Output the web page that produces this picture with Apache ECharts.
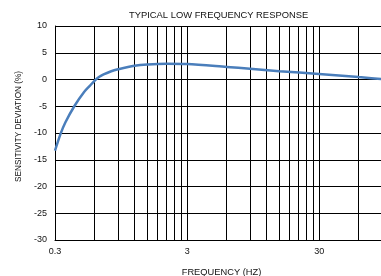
<!DOCTYPE html>
<html>
<head>
<meta charset="utf-8">
<script src="https://cdn.jsdelivr.net/npm/echarts@6/dist/echarts.min.js"></script>
<style>
html,body{margin:0;padding:0;background:#fff;}
#main{width:381px;height:276px;}
</style>
</head>
<body>
<div id="main"></div>
<script>
// frequency (Hz) and sensitivity deviation (%)
var freqHz = [0.3, 0.33, 0.36, 0.42, 0.5, 0.55, 0.6, 0.65, 0.7, 0.8, 0.9, 1.2, 1.5, 2.1, 3, 6, 9, 15, 30, 60, 100];
var deviationPct = [-13.3, -10.2, -8.0, -5.0, -2.3, -1.2, -0.2, 0.5, 0.95, 1.55, 1.9, 2.55, 2.8, 2.95, 2.9, 2.35, 2.0, 1.55, 1.05, 0.45, 0.0];
// extra vertical grid lines inside each decade (log paper)
var minorGridHz = [0.6, 0.9, 1.2, 1.5, 1.8, 2.1, 2.4, 2.7, 6, 9, 12, 15, 18, 21, 24, 27, 60, 90];

var font = 'Liberation Sans, Arial, sans-serif';
var chart = echarts.init(document.getElementById('main'));

var pts = [];
for (var i = 0; i < freqHz.length; i++) pts.push([freqHz[i], deviationPct[i]]);

var marks = minorGridHz.map(function(f){ return {xAxis: f}; });

chart.setOption({
    animation: false,
    title: {
        text: 'TYPICAL LOW FREQUENCY RESPONSE',
        left: 124, top: 6,
        textStyle: {fontFamily: font, fontSize: 9.4, fontWeight: 'normal', color: '#111'}
    },
    grid: {left: 55, top: 26, right: -7, bottom: 36, containLabel: false, outerBoundsMode: 'none'},
    xAxis: {
        type: 'log',
        min: 0.3, max: 100,
        interval: 1,
        name: 'FREQUENCY (HZ)',
        nameLocation: 'middle',
        nameGap: 28,
        nameTextStyle: {fontFamily: font, fontSize: 9.3, color: '#111'},
        axisLine: {onZero: false, lineStyle: {color: '#000', width: 1}},
        axisTick: {show: false},
        axisLabel: {
            fontFamily: font, fontSize: 9, color: '#111', margin: 7,
            showMaxLabel: true,
            formatter: function(v){ return String(Number(v.toPrecision(1))); }
        },
        splitLine: {show: true, lineStyle: {color: '#000', width: 1}}
    },
    yAxis: {
        type: 'value',
        min: -30, max: 10, interval: 5,
        name: 'SENSITIVITY DEVIATION (%)',
        nameLocation: 'middle',
        nameGap: 31,
        nameTextStyle: {fontFamily: font, fontSize: 8.2, color: '#111', padding: [0, 0, 0, 13]},
        axisLine: {show: true, lineStyle: {color: '#000', width: 1}},
        axisTick: {show: false},
        axisLabel: {fontFamily: font, fontSize: 9, color: '#111', margin: 8},
        splitLine: {show: true, lineStyle: {color: '#000', width: 1}}
    },
    series: [{
        type: 'line',
        data: pts,
        smooth: 0.3,
        showSymbol: false,
        lineStyle: {color: '#4a7ebb', width: 2.5},
        markLine: {
            silent: true,
            symbol: 'none',
            label: {show: false},
            lineStyle: {color: '#000', width: 1, type: 'solid'},
            data: marks,
            z: 1
        },
        z: 3
    }]
});
</script>
</body>
</html>
